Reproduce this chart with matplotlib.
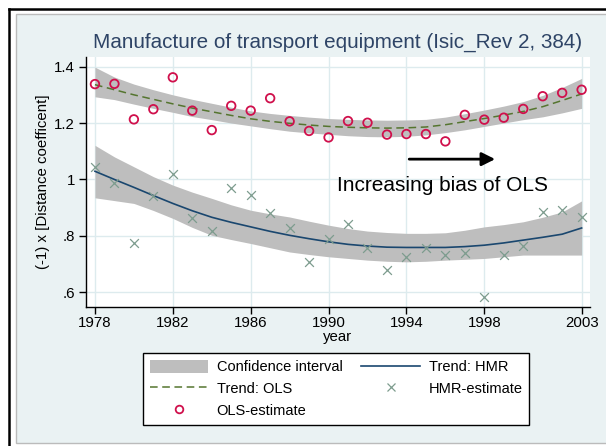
import matplotlib
matplotlib.use("Agg")
import numpy as np
import matplotlib.pyplot as plt
from matplotlib.patches import Rectangle, Patch
from matplotlib.lines import Line2D

plt.rcParams['font.family'] = ['Liberation Sans', 'DejaVu Sans']

years = np.arange(1978, 2004)

ols_estimate = [1.338, 1.339, 1.213, 1.249, 1.362, 1.244, 1.175, 1.261, 1.244, 1.288,
                1.206, 1.172, 1.149, 1.207, 1.201, 1.159, 1.161, 1.161, 1.135, 1.229,
                1.212, 1.219, 1.250, 1.295, 1.307, 1.318]
hmr_estimate = [1.043, 0.988, 0.774, 0.943, 1.019, 0.863, 0.817, 0.970, 0.944, 0.881,
                0.829, 0.707, 0.788, 0.843, 0.757, 0.680, 0.726, 0.758, 0.733, 0.741,
                0.582, 0.733, 0.765, 0.883, 0.893, 0.867]

ols_trend = [1.336, 1.318, 1.300, 1.284, 1.268, 1.253, 1.240, 1.227, 1.215, 1.206,
             1.199, 1.193, 1.188, 1.185, 1.183, 1.182, 1.183, 1.186, 1.194, 1.205,
             1.216, 1.228, 1.241, 1.258, 1.280, 1.303]
ols_ci_hi = [1.398, 1.363, 1.338, 1.318, 1.300, 1.284, 1.270, 1.256, 1.243, 1.234,
             1.227, 1.221, 1.216, 1.213, 1.211, 1.210, 1.211, 1.213, 1.221, 1.233,
             1.246, 1.260, 1.276, 1.298, 1.326, 1.358]
ols_ci_lo = [1.293, 1.283, 1.267, 1.252, 1.238, 1.223, 1.212, 1.200, 1.190, 1.180,
             1.171, 1.165, 1.160, 1.155, 1.152, 1.151, 1.153, 1.158, 1.166, 1.176,
             1.188, 1.200, 1.212, 1.222, 1.236, 1.252]

hmr_trend = [1.029, 1.000, 0.972, 0.943, 0.915, 0.889, 0.866, 0.848, 0.832, 0.816,
             0.802, 0.790, 0.779, 0.770, 0.764, 0.760, 0.759, 0.759, 0.759, 0.762,
             0.767, 0.775, 0.785, 0.795, 0.806, 0.828]
hmr_ci_hi = [1.121, 1.080, 1.045, 1.010, 0.980, 0.955, 0.933, 0.910, 0.891, 0.878,
             0.867, 0.852, 0.838, 0.826, 0.817, 0.812, 0.809, 0.809, 0.811, 0.820,
             0.832, 0.840, 0.850, 0.866, 0.885, 0.924]
hmr_ci_lo = [0.935, 0.925, 0.915, 0.890, 0.862, 0.830, 0.802, 0.787, 0.773, 0.758,
             0.743, 0.734, 0.726, 0.720, 0.714, 0.710, 0.708, 0.710, 0.714, 0.717,
             0.720, 0.726, 0.732, 0.732, 0.732, 0.732]

xticks = [1978, 1982, 1986, 1990, 1994, 1998, 2003]
yticks = [0.6, 0.8, 1.0, 1.2, 1.4]
ytick_labels = ['.6', '.8', '1', '1.2', '1.4']

panel_bg = '#EAF2F3'
grid_col = '#DDEBEE'
band_col = '#BEBEBE'
ols_col = '#D0104C'
hmr_col = '#7D9C8E'
trend_hmr_col = '#1A476F'
trend_ols_col = '#55752F'
title_col = '#2E4466'

W, H = 606, 446
fig = plt.figure(figsize=(W / 100, H / 100), dpi=100, facecolor='white')

# outer frame and panel
fig.patches.append(Rectangle((15.5 / W, 1 - 443.3 / H), 1.2, (443.3 - 14) / H,
                             transform=fig.transFigure, facecolor=panel_bg,
                             edgecolor='#BBBBBB', lw=1.0, zorder=-10))
fig.lines.append(Line2D([8.5 / W, 8.5 / W], [-0.1, 1 - 9.3 / H], transform=fig.transFigure,
                        color='black', lw=1.8, zorder=-9))
fig.lines.append(Line2D([8.5 / W, 1.2], [1 - 9.3 / H, 1 - 9.3 / H], transform=fig.transFigure,
                        color='black', lw=1.8, zorder=-9))

ax = fig.add_axes([86 / W, 1 - 306.7 / H, (590 - 86) / W, (306.7 - 57.3) / H])
ax.set_zorder(1)
ax.set_facecolor('white')

ax.fill_between(years, ols_ci_lo, ols_ci_hi, color=band_col, lw=0, zorder=1)
ax.fill_between(years, hmr_ci_lo, hmr_ci_hi, color=band_col, lw=0, zorder=1)
ax.plot(years, hmr_trend, color=trend_hmr_col, lw=1.2, zorder=3)
ax.plot(years, ols_trend, color=trend_ols_col, lw=1.1, dashes=(5, 3), zorder=3)
ax.scatter(years, hmr_estimate, marker='x', s=40, color=hmr_col, lw=0.9, zorder=4)
ax.scatter(years, ols_estimate, marker='o', s=38, facecolors='none',
           edgecolors=ols_col, lw=1.3, zorder=4)

ax.set_xlim(1977.54, 2003.43)
ax.set_ylim(0.549, 1.433)
ax.set_xticks(xticks)
ax.set_yticks(yticks)
ax.set_yticklabels(ytick_labels)
ax.grid(True, color=grid_col, lw=1.0, zorder=0)
ax.set_axisbelow(True)
for s in ['top', 'right']:
    ax.spines[s].set_visible(False)
for s in ['left', 'bottom']:
    ax.spines[s].set_color('black')
    ax.spines[s].set_linewidth(1.0)
ax.tick_params(direction='out', length=5, width=1, labelsize=10.8, colors='black', pad=3)
ax.tick_params(axis='x', pad=2)

ax.set_title('Manufacture of transport equipment (Isic_Rev 2, 384)',
             fontsize=14.9, color=title_col, pad=7)
ax.set_xlabel('year', fontsize=10.8, labelpad=0)
ax.set_ylabel('(-1) x [Distance coefficent]', fontsize=10.8, labelpad=3)

ax.annotate('', xy=(1998.7, 1.072), xytext=(1994.0, 1.072),
            arrowprops=dict(arrowstyle='-|>', color='black', lw=2, mutation_scale=20))
ax.text(1995.85, 0.98, 'Increasing bias of OLS', fontsize=15, ha='center', va='center')

handles = [Patch(facecolor=band_col, edgecolor='none'),
           Line2D([], [], color=trend_ols_col, lw=1.1, dashes=(5, 3)),
           Line2D([], [], marker='o', ls='none', markersize=5.5, markerfacecolor='none',
                  markeredgecolor=ols_col, markeredgewidth=1.3),
           Line2D([], [], color=trend_hmr_col, lw=1.2),
           Line2D([], [], marker='x', ls='none', markersize=6, color=hmr_col,
                  markeredgewidth=0.9)]
labels = ['Confidence interval', 'Trend: OLS', 'OLS-estimate', 'Trend: HMR', 'HMR-estimate']
leg = fig.legend(handles, labels, ncol=2, loc='upper left',
                 bbox_to_anchor=(143 / W, 1 - 353.3 / H), borderaxespad=0, fontsize=10.5,
                 frameon=True, fancybox=False, edgecolor='black', facecolor='white',
                 framealpha=1, handlelength=4.0, handleheight=1.0, handletextpad=0.6,
                 columnspacing=1.3, labelspacing=0.5, borderpad=0.45)
leg.get_frame().set_linewidth(1.0)
leg.set_zorder(2)

fig.savefig('out.png', dpi=100, facecolor='white')
